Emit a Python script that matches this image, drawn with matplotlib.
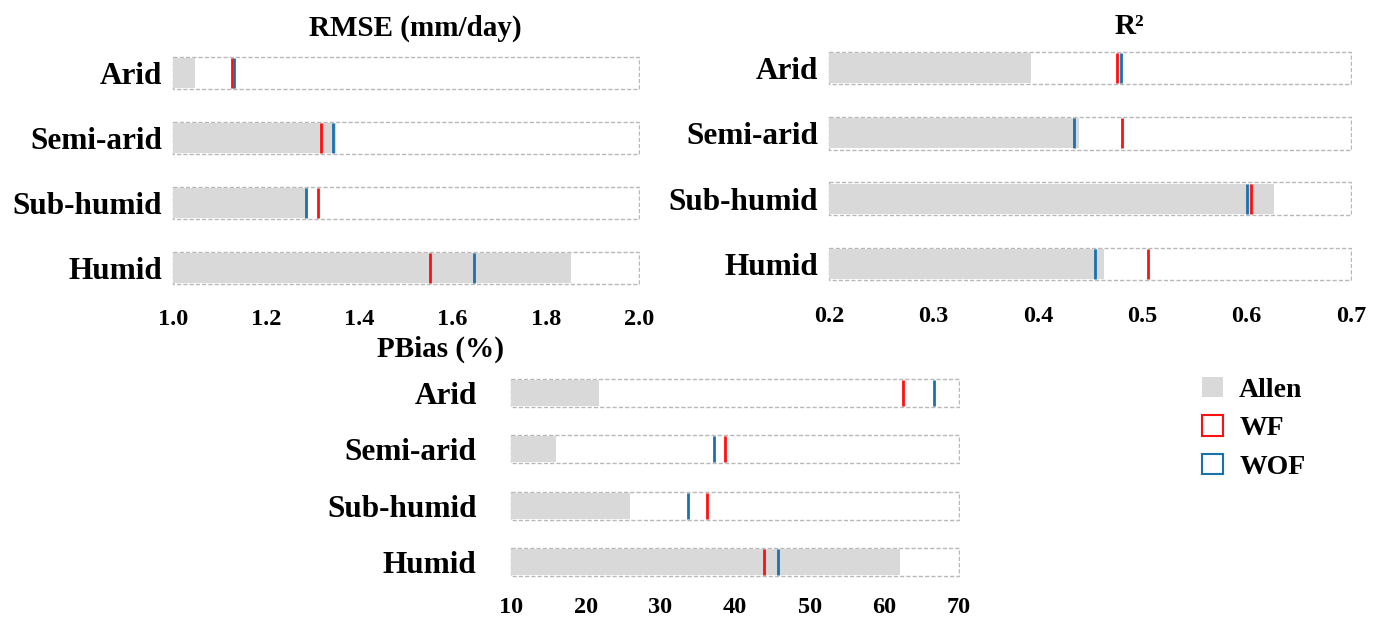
import matplotlib.pyplot as plt
from matplotlib.patches import Patch

# climate zones, top to bottom
zones = ["Arid", "Semi-arid", "Sub-humid", "Humid"]

# RMSE (mm/day)
rmse_allen = [1.048, 1.350, 1.290, 1.854]
rmse_wf = [1.127, 1.318, 1.311, 1.551]
rmse_wof = [1.131, 1.343, 1.286, 1.645]

# R2
r2_allen = [0.393, 0.439, 0.626, 0.463]
r2_wf = [0.476, 0.481, 0.604, 0.506]
r2_wof = [0.480, 0.435, 0.600, 0.455]

# PBias (%)
pb_allen = [21.8, 16.0, 25.9, 62.1]
pb_wf = [62.5, 38.6, 36.2, 43.9]
pb_wof = [66.6, 37.2, 33.7, 45.7]

C_ALLEN = "#d9d9d9"
C_WF = "#ff1010"
C_WOF = "#1a72ad"
FONT = "Liberation Serif"

fig = plt.figure(figsize=(13.86, 6.21), dpi=100)


def panel(rect, allen, wf, wof, xlim, ticks, ticklabels, ypad, labelpad):
    ax = fig.add_axes(rect)
    ys = list(range(len(zones)))
    # outer dashed box of each row
    ax.barh(ys, xlim[1] - xlim[0], left=xlim[0], height=0.5, color="white",
            edgecolor="#b8b8b8", linestyle=(0, (3, 1.5)), linewidth=1.0, zorder=1)
    ax.barh(ys, [a - xlim[0] for a in allen], left=xlim[0], height=0.46,
            color=C_ALLEN, linewidth=0, zorder=2)
    ax.vlines(wf, [y - 0.23 for y in ys], [y + 0.23 for y in ys], color=C_WF,
              linewidth=2, zorder=3)
    ax.vlines(wof, [y - 0.23 for y in ys], [y + 0.23 for y in ys], color=C_WOF,
              linewidth=2, zorder=3)
    ax.set_xlim(xlim[0] - (xlim[1] - xlim[0]) * 0.002, xlim[1] + (xlim[1] - xlim[0]) * 0.002)
    ax.set_ylim(3.5, -0.5)
    ax.set_yticks(ys)
    ax.set_yticklabels(zones, fontfamily=FONT, fontweight="bold", fontsize=22.5)
    ax.set_xticks(ticks)
    ax.set_xticklabels(ticklabels, fontfamily=FONT, fontweight="bold", fontsize=17.5)
    ax.tick_params(axis="x", length=0, pad=ypad)
    ax.tick_params(axis="y", length=0, pad=labelpad)
    for s in ax.spines.values():
        s.set_visible(False)
    return ax


panel([0.1241, 0.516, 0.3377, 0.4188], rmse_allen, rmse_wf, rmse_wof, (1.0, 2.0),
      [1.0, 1.2, 1.4, 1.6, 1.8, 2.0], ["1.0", "1.2", "1.4", "1.6", "1.8", "2.0"], 6, 7)
panel([0.5974, 0.5225, 0.3781, 0.4203], r2_allen, r2_wf, r2_wof, (0.2, 0.7),
      [0.2, 0.3, 0.4, 0.5, 0.6, 0.7], ["0.2", "0.3", "0.4", "0.5", "0.6", "0.7"], 7, 7)
panel([0.368, 0.0496, 0.3246, 0.3630], pb_allen, pb_wf, pb_wof, (10, 70),
      [10, 20, 30, 40, 50, 60, 70], ["10", "20", "30", "40", "50", "60", "70"], 5, 24)

fig.text(0.300, 0.955, "RMSE (mm/day)", ha="center", va="center",
         fontfamily=FONT, fontweight="bold", fontsize=21)
fig.text(0.815, 0.957, "R²", ha="center", va="center",
         fontfamily=FONT, fontweight="bold", fontsize=21)
fig.text(0.318, 0.437, "PBias (%)", ha="center", va="center",
         fontfamily=FONT, fontweight="bold", fontsize=21)

handles = [Patch(facecolor=C_ALLEN, edgecolor="none", label="Allen"),
           Patch(facecolor="white", edgecolor=C_WF, linewidth=1.5, label="WF"),
           Patch(facecolor="white", edgecolor=C_WOF, linewidth=1.5, label="WOF")]
fig.legend(handles=handles, loc="upper left", bbox_to_anchor=(0.849, 0.433),
           frameon=False, handlelength=0.75, handleheight=0.75, handletextpad=0.6,
           labelspacing=0.45, prop={"family": FONT, "weight": "bold", "size": 20})

fig.savefig("out.png", dpi=100)
